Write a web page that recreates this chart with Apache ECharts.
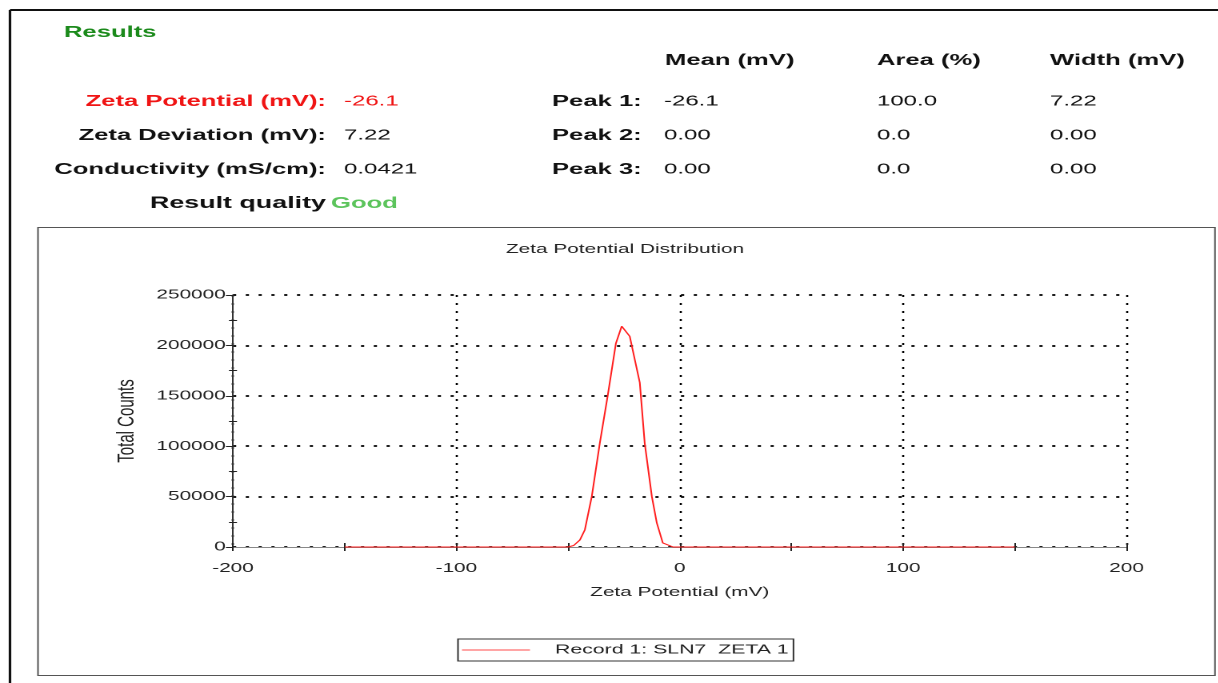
<!DOCTYPE html>
<html>
<head>
<meta charset="utf-8">
<title>Zeta Potential Distribution</title>
<script src="https://cdn.jsdelivr.net/npm/echarts@6/dist/echarts.min.js"></script>
<style>
  html, body { margin: 0; padding: 0; background: #fff; overflow: hidden; }
  #wrap { width: 1218px; height: 683px; overflow: hidden; }
  /* the report is laid out narrow and then widened horizontally */
  #chart { width: 761.25px; height: 683px; transform: scaleX(1.6); transform-origin: 0 0; }
</style>
</head>
<body>
<div id="wrap"><div id="chart"></div></div>
<script>
// Zeta potential distribution (mV) and total counts
const zetaMv = [-150, -100, -60, -50, -47.5, -44.7, -42.5, -39.4, -35.8, -32.2, -28.6, -26.0,
                -22.4, -17.9, -15.7, -12.5, -10.3, -7.6, -3.0, 0, 50, 100, 150];
const totalCounts = [0, 0, 0, 0, 1500, 7000, 17000, 50000, 103000, 151000, 202000, 219000,
                     209000, 163000, 103000, 50000, 24000, 4000, 0, 0, 0, 0, 0];

const xTicks = [-200, -100, 0, 100, 200];
const yTicks = [0, 50000, 100000, 150000, 200000, 250000];
const seriesName = 'Record 1: SLN7  ZETA 1';

// Summary table
const resultLabels = ['Zeta Potential (mV):', 'Zeta Deviation (mV):', 'Conductivity (mS/cm):'];
const resultValues = ['-26.1', '7.22', '0.0421'];
const qualityLabel = 'Result quality';
const qualityValue = 'Good';
const peakColumns = ['Mean (mV)', 'Area (%)', 'Width (mV)'];
const peakRows = ['Peak 1:', 'Peak 2:', 'Peak 3:'];
const peakMean = ['-26.1', '0.00', '0.00'];
const peakArea = ['100.0', '0.0', '0.0'];
const peakWidth = ['7.22', '0.00', '0.00'];

const S = 1.6;                 // horizontal widening factor
const W = 1218 / S;
const X = v => v / S;
const FONT = '"Liberation Sans", Arial, sans-serif';
const LEGEND_RED = '#ff7070';

const chart = echarts.init(document.getElementById('chart'), null, { renderer: 'canvas', devicePixelRatio: 2 });

function txt(x, y, text, opt) {
  return {
    type: 'text', x: X(x), y: y + 1.5, silent: true,
    style: Object.assign({
      text: text, fontFamily: FONT, fontSize: 15, fill: '#111',
      verticalAlign: 'middle', align: 'left'
    }, opt || {})
  };
}

const rowsY = [100, 134, 168];
const graphics = [];
// frame
graphics.push({ type: 'line', silent: true, shape: { x1: X(10), y1: 10, x2: W, y2: 10 }, style: { stroke: '#111', lineWidth: 2 } });
graphics.push({ type: 'line', silent: true, shape: { x1: X(10), y1: 10, x2: X(10), y2: 683 }, style: { stroke: '#111', lineWidth: 1.6 } });
graphics.push({ type: 'rect', silent: true, shape: { x: X(38), y: 227.5, width: X(1215 - 38), height: 675.5 - 227.5 }, style: { fill: 'none', stroke: '#555', lineWidth: 1 } });

graphics.push(txt(64, 31, 'Results', { fontWeight: 'bold', fontSize: 16, fill: '#1b8a1b' }));
resultLabels.forEach((t, i) => {
  const red = i === 0;
  graphics.push(txt(326, rowsY[i], t, { fontWeight: 'bold', fontSize: 16, align: 'right', fill: red ? '#f01414' : '#111' }));
  graphics.push(txt(344, rowsY[i], resultValues[i], { fill: red ? '#f01414' : '#111' }));
});
graphics.push(txt(326, 202, qualityLabel, { fontWeight: 'bold', fontSize: 16.8, align: 'right' }));
graphics.push(txt(331, 202, qualityValue, { fontWeight: 'bold', fontSize: 16, fill: '#5cc45c' }));

const colX = [665, 877, 1050];
peakColumns.forEach((t, i) => graphics.push(txt(colX[i], 59, t, { fontWeight: 'bold', fontSize: 16 })));
peakRows.forEach((t, i) => {
  graphics.push(txt(552, rowsY[i], t, { fontWeight: 'bold', fontSize: 16 }));
  graphics.push(txt(664, rowsY[i], peakMean[i]));
  graphics.push(txt(877, rowsY[i], peakArea[i]));
  graphics.push(txt(1050, rowsY[i], peakWidth[i]));
});
graphics.push(txt(625, 248, 'Zeta Potential Distribution', { fontSize: 13, align: 'center', fill: '#222' }));

const axisText = { fontFamily: FONT, fontSize: 13, color: '#222' };

const option = {
  animation: false,
  backgroundColor: '#fff',
  graphic: graphics,
  grid: { left: X(233), right: W - X(1127), top: 295, bottom: 683 - 547, containLabel: false },
  legend: {
    data: [{ name: seriesName, icon: 'rect', itemStyle: { color: LEGEND_RED, borderWidth: 0, opacity: 1 } }],
    left: X(458), top: 639,
    orient: 'horizontal',
    itemWidth: 42.5, itemHeight: 1.2,
    inactiveColor: LEGEND_RED,
    padding: [4, 3, 4, 2.5],
    borderColor: '#333', borderWidth: 1,
    textStyle: Object.assign({}, axisText, { fontSize: 13.3, padding: [0, 0, 0, 10.6], lineHeight: 14 })
  },
  xAxis: [
    {
      type: 'value', min: xTicks[0], max: xTicks[xTicks.length - 1], interval: 100,
      position: 'bottom',
      name: 'Zeta Potential (mV)', nameLocation: 'middle', nameGap: 39,
      nameTextStyle: axisText,
      axisLine: { show: true, onZero: false, lineStyle: { color: '#888', width: 1 } },
      axisTick: { show: true, length: 4, lineStyle: { color: '#222' } },
      minorTick: { show: true, splitNumber: 2, length: 4, lineStyle: { color: '#222' } },
      axisLabel: Object.assign({ margin: 15 }, axisText),
      splitLine: { show: true, lineStyle: { color: '#000', type: [2, 6], width: 1.3 } },
      minorSplitLine: { show: false }
    },
    {
      type: 'value', min: xTicks[0], max: xTicks[xTicks.length - 1], interval: 100,
      position: 'bottom',
      axisLine: { show: false, onZero: false },
      axisTick: { show: true, inside: true, length: 4, lineStyle: { color: '#222' } },
      minorTick: { show: true, splitNumber: 2, length: 4, lineStyle: { color: '#222' } },
      axisLabel: { show: false },
      splitLine: { show: false }
    }
  ],
  yAxis: [
    {
      type: 'value', min: yTicks[0], max: yTicks[yTicks.length - 1], interval: 50000,
      position: 'left',
      name: 'Total Counts', nameLocation: 'middle', nameGap: 45,
      nameTextStyle: Object.assign({}, axisText, { fontSize: 15 }),
      axisLine: { show: true, onZero: false, lineStyle: { color: '#333', width: 1 } },
      axisTick: { show: true, length: 4.4, lineStyle: { color: '#222' } },
      minorTick: { show: true, splitNumber: 2, length: 2.5, lineStyle: { color: '#222' } },
      axisLabel: Object.assign({ margin: 4.5, formatter: v => String(v) }, axisText),
      splitLine: { show: true, lineStyle: { color: '#000', type: [2, 6], width: 1.8 } }
    },
    {
      type: 'value', min: yTicks[0], max: yTicks[yTicks.length - 1], interval: 50000,
      position: 'left',
      axisLine: { show: false, onZero: false },
      axisTick: { show: false, inside: true },
      minorTick: { show: true, splitNumber: 2, length: 2.5, lineStyle: { color: '#222' } },
      axisLabel: { show: false },
      splitLine: { show: false }
    }
  ],
  series: [
    {
      name: seriesName,
      type: 'line',
      xAxisIndex: 0, yAxisIndex: 0,
      data: zetaMv.map((v, i) => [v, totalCounts[i]]),
      symbol: 'none',
      lineStyle: { color: '#ff1e1e', width: 1 },
      itemStyle: { color: '#ff1e1e' },
      z: 5
    }
  ]
};
chart.setOption(option);
</script>
</body>
</html>
